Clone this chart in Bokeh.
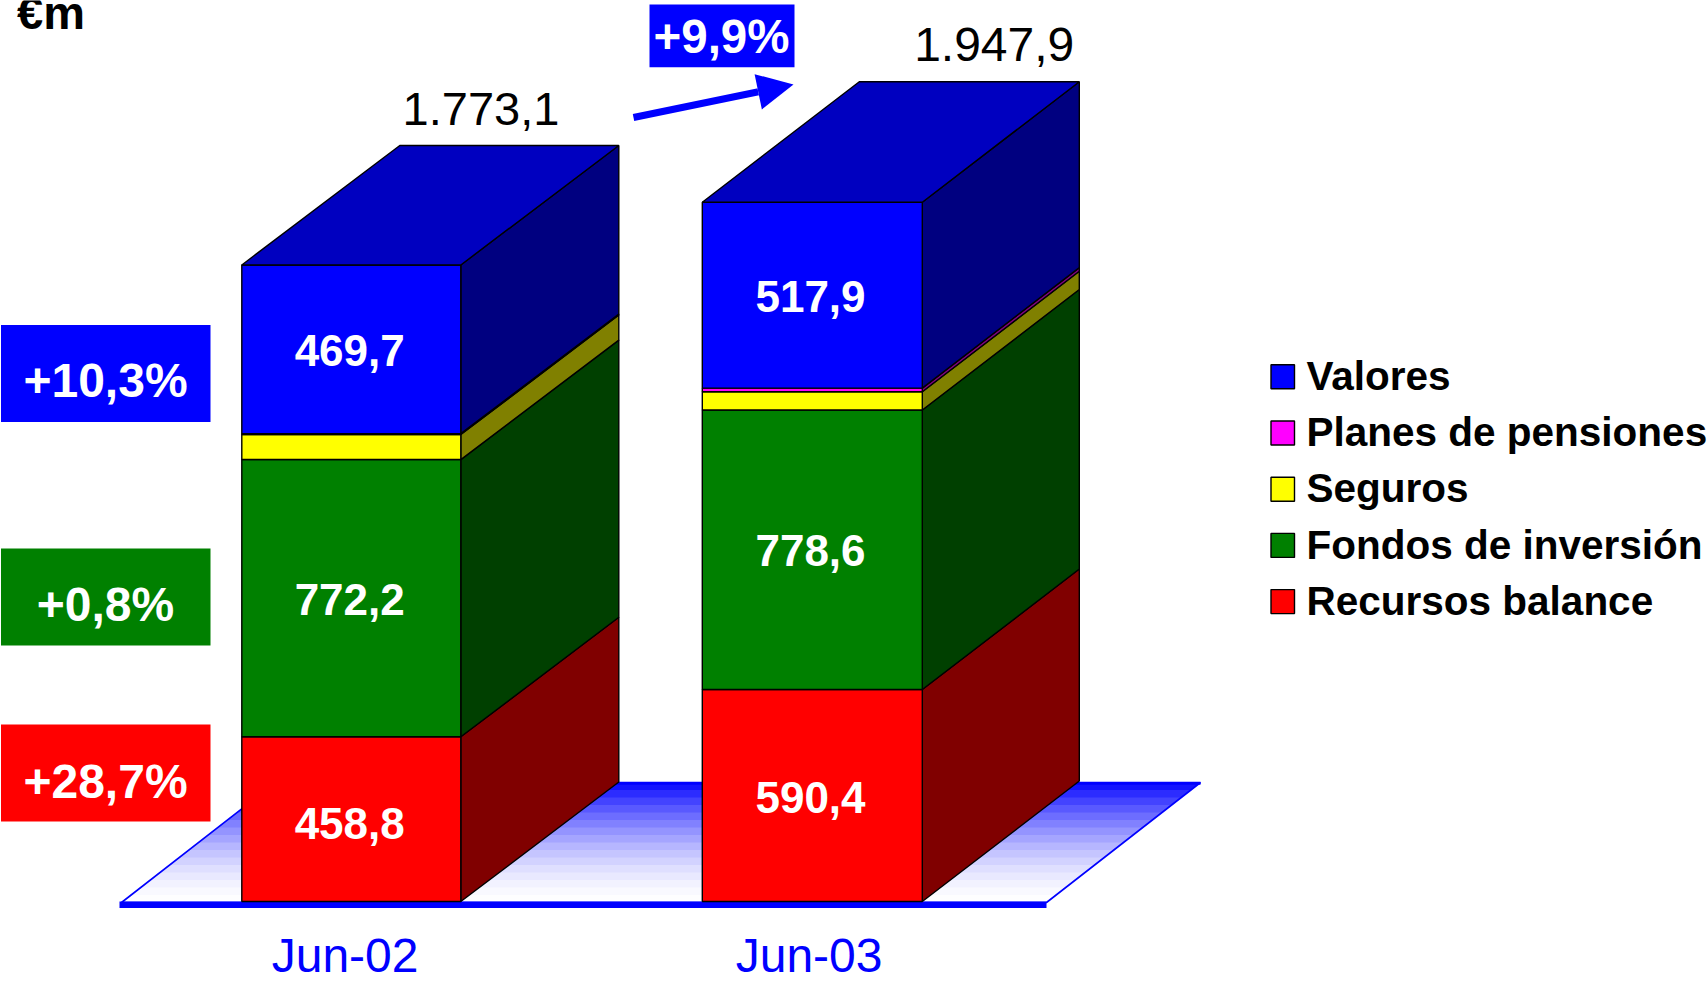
from bokeh.plotting import figure
from bokeh.embed import file_html
from bokeh.resources import INLINE
from bokeh.core.properties import value
from bokeh.models import Range1d, Arrow, NormalHead

# ---- data ----
categories = ["Jun-02", "Jun-03"]
series_names = ["Recursos balance", "Fondos de inversión", "Seguros", "Planes de pensiones", "Valores"]
recursos_balance = [458.8, 590.4]
fondos_inversion = [772.2, 778.6]
seguros = [69.9, 51.0]
planes_pensiones = [2.5, 10.0]
valores = [469.7, 517.9]
totals = ["1.773,1", "1.947,9"]
growth_labels = ["+10,3%", "+0,8%", "+28,7%"]
total_growth = "+9,9%"
legend_order = ["Valores", "Planes de pensiones", "Seguros", "Fondos de inversión", "Recursos balance"]

# ---- styles ----
FRONT = {"Recursos balance": "#FF0000", "Fondos de inversión": "#008000", "Seguros": "#FFFF00",
         "Planes de pensiones": "#FF00FF", "Valores": "#0000FF"}
SIDE = {"Recursos balance": "#800000", "Fondos de inversión": "#004000", "Seguros": "#808000",
        "Planes de pensiones": "#800080", "Valores": "#000080"}
TOP = "#0000C0"
FONT = value("Liberation Sans")

BASE_PX = 901.0
PX_PER_UNIT = 0.359
BAR0_CX = 351.3
BAR_STEP = 460.5
BAR_WIDTHS = [219 / BAR_STEP, 220 / BAR_STEP]
BAR_LEFTS = [-110 / BAR_STEP, 1 - 110 / BAR_STEP]
DXS = [158 / BAR_STEP, 157 / BAR_STEP]
DYS = [119.5 / PX_PER_UNIT, 120.5 / PX_PER_UNIT]

p = figure(width=1708, height=985, output_backend="svg", toolbar_location=None,
           x_range=Range1d(-BAR0_CX / BAR_STEP, (1708 - BAR0_CX) / BAR_STEP),
           y_range=Range1d(-(985 - BASE_PX) / PX_PER_UNIT, BASE_PX / PX_PER_UNIT),
           x_axis_location=None, y_axis_location=None, min_border=0)
p.grid.visible = False
p.outline_line_color = None
p.background_fill_color = "#FFFFFF"
p.border_fill_color = "#FFFFFF"
p.extra_x_ranges["px"] = Range1d(0, 1708)
p.extra_y_ranges["px"] = Range1d(985, 0)
PX = dict(x_range_name="px", y_range_name="px")


def hexmix(a, b, t):
    ca = [int(a[i:i + 2], 16) for i in (1, 3, 5)]
    cb = [int(b[i:i + 2], 16) for i in (1, 3, 5)]
    return "#%02X%02X%02X" % tuple(round(x + (y - x) * t) for x, y in zip(ca, cb))


# ---- floor ----
F_L, F_R, F_Y0, F_Y1, F_D = 121, 1046, 902, 782, 154
N_BANDS = 16
band_h = (F_Y0 - F_Y1) / N_BANDS
xs, ys, cs = [], [], []
for i in range(N_BANDS):
    ya = F_Y1 + i * band_h
    yb = min(ya + band_h + 0.6, F_Y0)
    xa = F_L + F_D * (F_Y0 - ya) / (F_Y0 - F_Y1)
    xb = F_L + F_D * (F_Y0 - yb) / (F_Y0 - F_Y1)
    xs.append([xa, xa + F_R - F_L, xb + F_R - F_L, xb])
    ys.append([ya, ya, yb, yb])
    cs.append(hexmix("#0808FF", "#FFFFFF", 1 - (1 - (i + 0.5) / N_BANDS) ** 1.6))
p.patches(xs, ys, fill_color=cs, line_color=None, **PX)
p.patch([F_L, F_L + F_D, F_R + F_D, F_R], [F_Y0, F_Y1, F_Y1, F_Y0], fill_color=None,
        line_color="#0000FF", line_width=1.6, **PX)
p.line([F_L + F_D, F_R + F_D], [F_Y1 + 1, F_Y1 + 1], line_color="#0000FF", line_width=2.5, **PX)
p.line([F_L - 2, F_R], [904.3, 904.3], line_color="#0000FF", line_width=6.5, line_cap="butt", **PX)

# ---- 3D stacked bars ----
stack = [("Recursos balance", recursos_balance), ("Fondos de inversión", fondos_inversion),
         ("Seguros", seguros), ("Planes de pensiones", planes_pensiones), ("Valores", valores)]
for i in range(len(categories)):
    bottom = 0.0
    xl = BAR_LEFTS[i]
    bw = BAR_WIDTHS[i]
    xr = xl + bw
    dx = DXS[i]
    dy = DYS[i]
    for name, vals in stack:
        top = bottom + vals[i]
        p.patch([xr, xr + dx, xr + dx, xr], [bottom, bottom + dy, top + dy, top],
                fill_color=SIDE[name], line_color="black", line_width=1.4)
        p.vbar(x=[xl + bw / 2], width=bw, bottom=[bottom], top=[top], fill_color=FRONT[name],
               line_color="black", line_width=1.4)
        bottom = top
    p.patch([xl, xr, xr + dx, xl + dx], [bottom, bottom, bottom + dy, bottom + dy],
            fill_color=TOP, line_color="black", line_width=1.4)


def txt(x, y, s, color, size, bold=False, align="center"):
    p.text([x], [y - 0.345 * size], text=[s], text_color=color, text_font=FONT,
           text_font_size=f"{size}px",
           text_font_style="bold" if bold else "normal", text_align=align,
           text_baseline="alphabetic", **PX)


def fmt(v):
    return f"{v:.1f}".replace(".", ",")


# ---- growth boxes ----
box_y = [(324.5, 421.5), (548, 645), (724, 821)]
box_col = ["#0000FF", "#008000", "#FF0000"]
base_y = [396.7, 620.5, 797.3]
for lab, (y0, y1), c, by in zip(growth_labels, box_y, box_col, base_y):
    p.quad(left=[0.5], right=[210], top=[y0], bottom=[y1], fill_color=c, line_color=None, **PX)
    txt(105, by, lab, "white", 48, True)

# ---- total growth ----
p.quad(left=[649], right=[794], top=[4], bottom=[66.7], fill_color="#0000FF", line_color=None, **PX)
txt(721, 52.8, total_growth, "white", 47.5, True)
p.add_layout(Arrow(end=NormalHead(size=36, fill_color="#0000FF", line_color="#0000FF", line_width=0),
                   x_start=633, y_start=117, x_end=793, y_end=84,
                   line_color="#0000FF", line_width=7, **PX))

# ---- segment values ----
txt(349.2, 837.8, fmt(recursos_balance[0]), "white", 44, True)
txt(349.2, 614.5, fmt(fondos_inversion[0]), "white", 44, True)
txt(349.2, 365, fmt(valores[0]), "white", 44, True)
txt(810, 812, fmt(recursos_balance[1]), "white", 44, True)
txt(810, 565.5, fmt(fondos_inversion[1]), "white", 44, True)
txt(810, 310.7, fmt(valores[1]), "white", 44, True)

# ---- totals ----
txt(480.5, 125, totals[0], "black", 47)
txt(993.7, 61, totals[1], "black", 48)

# ---- category labels ----
txt(344.6, 972, categories[0], "#0000FF", 48)
txt(808.6, 972, categories[1], "#0000FF", 48)

# ---- unit ----
txt(16.5, 28, "€m", "black", 47, True, "left")

# ---- legend ----
for k, name in enumerate(legend_order):
    y0 = 364.3 + 56.2 * k
    p.quad(left=[1270.5], right=[1294], top=[y0], bottom=[y0 + 24], fill_color=FRONT[name],
           line_color="black", line_width=1.4, **PX)
    txt(1306, 389.5 + 56.2 * k, name, "black", 40.5, True, "left")

open("out.html", "w").write(file_html(p, INLINE))
